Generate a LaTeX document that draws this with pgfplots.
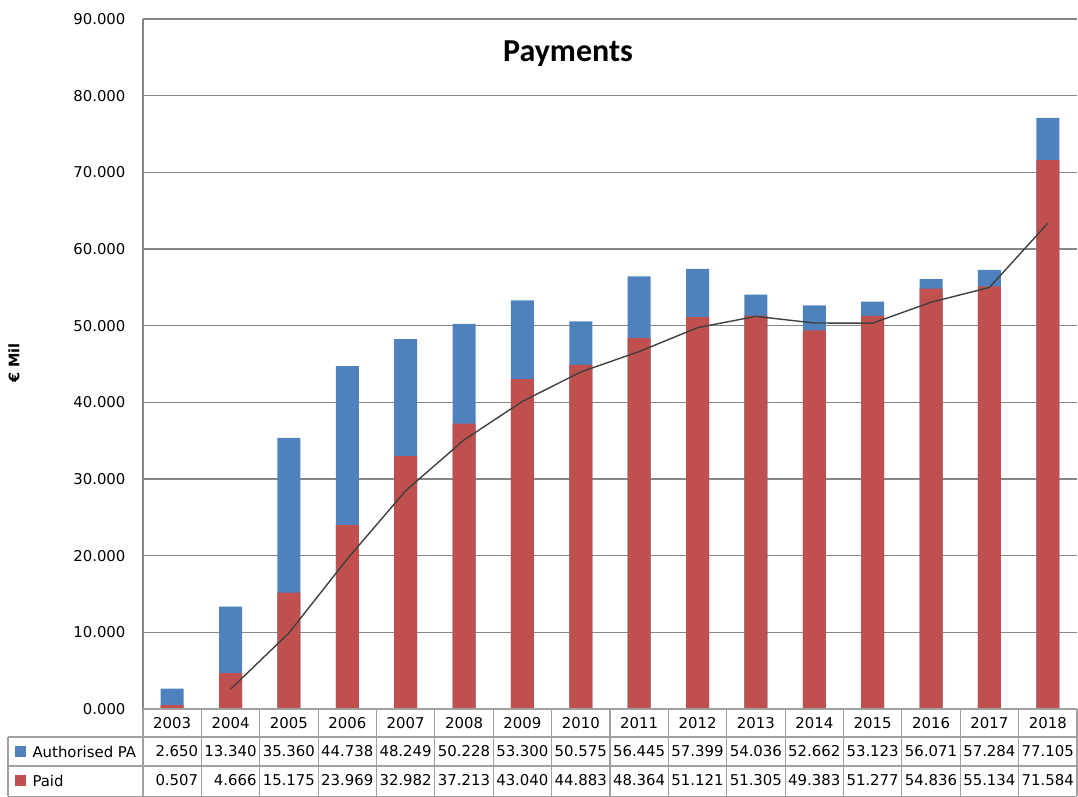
\documentclass[border=0pt]{standalone}
\usepackage{pgfplots}
\pgfplotsset{compat=1.18}
\usepackage{fontspec}
\setmainfont{DejaVu Sans}
\newfontfamily\titlefont{Carlito}
\definecolor{paBlue}{HTML}{4F81BD}
\definecolor{paidRed}{HTML}{C0504D}
\definecolor{gridgray}{HTML}{868686}
\definecolor{tablegray}{HTML}{A0A0A0}
\newcommand\tf{\fontsize{14.9}{17}\selectfont}
\begin{document}
\begin{tikzpicture}[x=1pt,y=1pt]
\path (-143,-88) rectangle (935,709);
\begin{axis}[
  at={(0,0)}, anchor=south west,
  scale only axis, width=934pt, height=690pt,
  xmin=-0.5, xmax=15.5, ymin=0, ymax=90,
  axis lines*=left,
  axis line style={gridgray, line width=1.2pt, -},
  xtick=\empty,
  ytick={0,10,...,90},
  ymajorgrids,
  grid style={gridgray, line width=1.2pt},
  major tick length=0pt,
  yticklabel style={font=\tf, text=black, xshift=-14pt},
  /pgf/number format/.cd, fixed, fixed zerofill, precision=3, assume math mode=true,
]
\addplot[ybar, bar width=23pt, bar shift=0pt, fill=paBlue, draw=none] coordinates {
(0,2.650) (1,13.340) (2,35.360) (3,44.738) (4,48.249) (5,50.228) (6,53.300) (7,50.575)
(8,56.445) (9,57.399) (10,54.036) (11,52.662) (12,53.123) (13,56.071) (14,57.284) (15,77.105)};
\addplot[ybar, bar width=23pt, bar shift=0pt, fill=paidRed, draw=none] coordinates {
(0,0.507) (1,4.666) (2,15.175) (3,23.969) (4,32.982) (5,37.213) (6,43.040) (7,44.883)
(8,48.364) (9,51.121) (10,51.305) (11,49.383) (12,51.277) (13,54.836) (14,55.134) (15,71.584)};
\addplot[color=black!75, line width=1.4pt, mark=none] coordinates {
(1,2.5865) (2,9.9205) (3,19.572) (4,28.4755) (5,35.0975) (6,40.1265) (7,43.9615)
(8,46.6235) (9,49.7425) (10,51.213) (11,50.344) (12,50.33) (13,53.0565) (14,54.985) (15,63.359)};
\end{axis}
% title and axis label
\node[font=\titlefont\bfseries\fontsize{32}{34}\selectfont] at (425,655) {Payments};
\node[font=\bfseries\fontsize{14.5}{16}\selectfont, rotate=90] at (-129,346) {€ Mil};
% data table grid
\begin{scope}[draw=tablegray, line width=1.2pt]
\draw (0,0) -- (934,0);
\foreach \yy in {-28,-57,-87.4} \draw (-135,\yy) -- (934,\yy);
\foreach \i in {0,...,16} \draw ({\i*58.375},0) -- ({\i*58.375},-87.4);
\draw (-135,-28) -- (-135,-87.4);
\end{scope}
% header row
\foreach \yr [count=\i from 0] in {2003,2004,2005,2006,2007,2008,2009,2010,2011,2012,2013,2014,2015,2016,2017,2018}
  \node[font=\tf, text=black] at ({29.19+\i*58.375},-14) {\yr};
% row labels
\fill[paBlue] (-128,-48) rectangle (-117,-37);
\fill[paidRed] (-128,-77) rectangle (-117,-66);
\node[font=\tf, text=black, anchor=west] at (-114,-42.5) {Authorised PA};
\node[font=\tf, text=black, anchor=west] at (-114,-71.5) {Paid};
\foreach \v [count=\i from 1] in {2.650,13.340,35.360,44.738,48.249,50.228,53.300,50.575,56.445,57.399,54.036,52.662,53.123,56.071,57.284,77.105}
  \node[font=\tf, text=black, anchor=east, inner sep=0pt] at ({\i*58.375-3},-42.5) {\v};
\foreach \v [count=\i from 1] in {0.507,4.666,15.175,23.969,32.982,37.213,43.040,44.883,48.364,51.121,51.305,49.383,51.277,54.836,55.134,71.584}
  \node[font=\tf, text=black, anchor=east, inner sep=0pt] at ({\i*58.375-3},-71.5) {\v};
\end{tikzpicture}
\end{document}
